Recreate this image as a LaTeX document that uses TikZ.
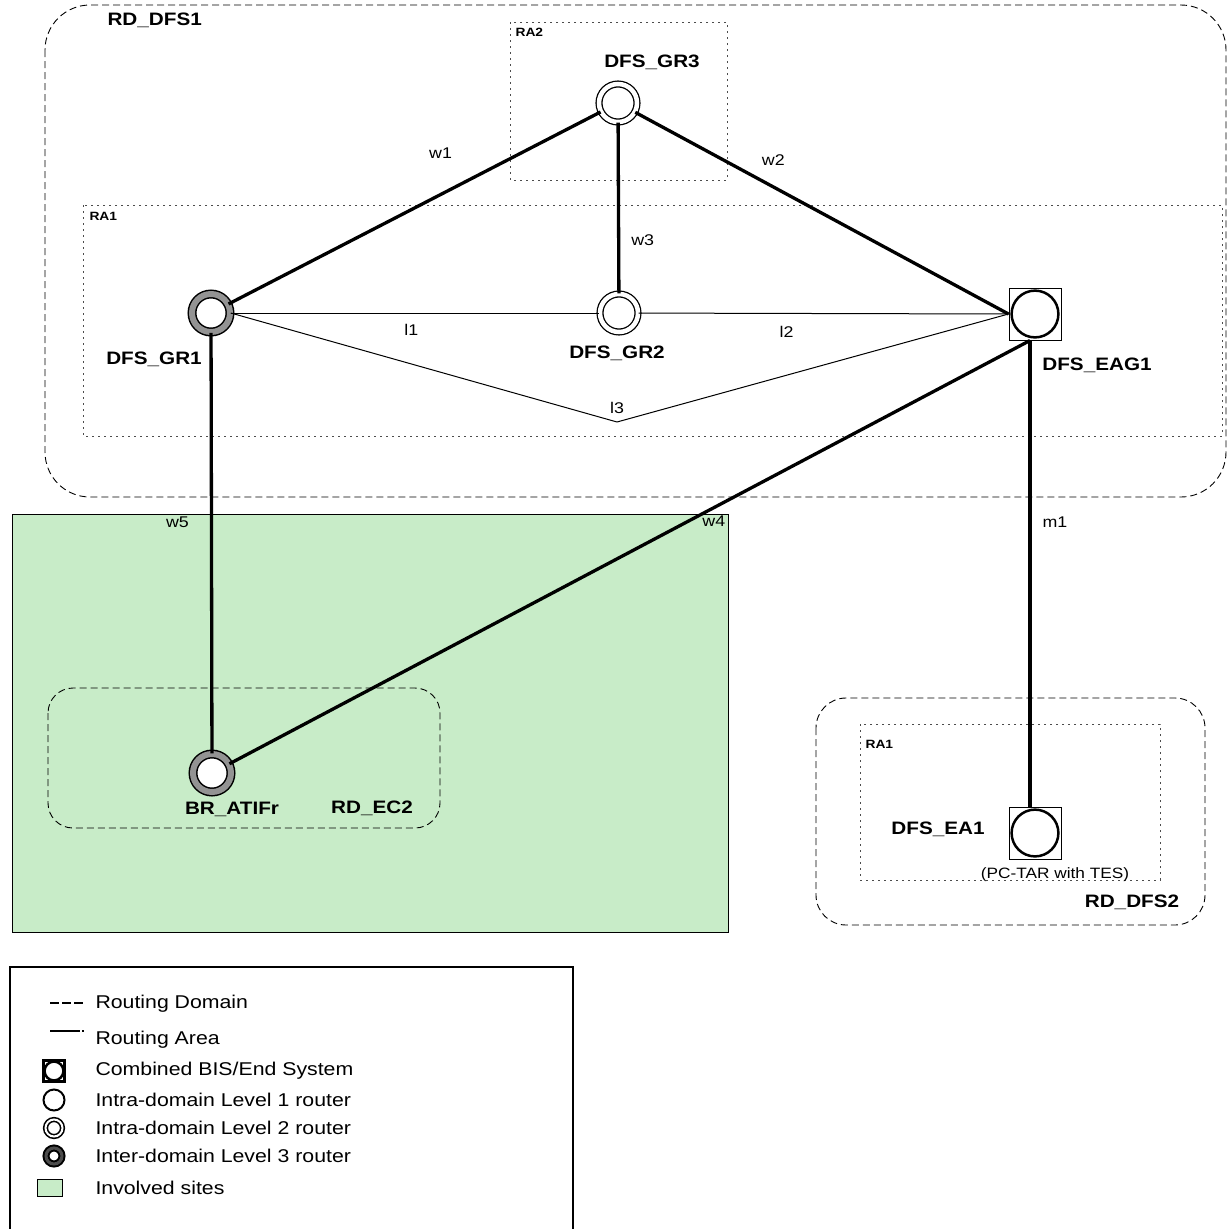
\documentclass[tikz,border=0pt]{standalone}
\usepackage{fontspec}
\setmainfont[FakeStretch=1.15]{Liberation Sans}
\usetikzlibrary{positioning}
\definecolor{sitegreen}{RGB}{200,236,200}
\tikzstyle{ltwo} = [circle, draw, double=white, fill=white, inner sep=0pt, line width=1.3pt, double distance=4.5pt, minimum size=38pt]
\tikzstyle{lthree} = [circle, draw, double=gray!85, fill=white, inner sep=0pt, line width=1.5pt, double distance=6pt, minimum size=38pt]
\tikzstyle{combo} = [rectangle, draw, line width=1pt, inner sep=0pt, minimum size=#1, path picture={\draw[line width=2.5pt] (path picture bounding box.center) circle ({0.45*#1});}]
\tikzstyle{wan} = [line width=3.3pt]
\tikzstyle{lan} = [line width=1pt]
\tikzstyle{rdomain} = [line width=0.9pt, dash pattern=on 7pt off 4pt]
\tikzstyle{rarea} = [line width=0.9pt, dash pattern=on 2pt off 4pt, black!70]
\tikzstyle{rname} = [font=\fontsize{18}{20}\selectfont\bfseries]
\tikzstyle{ratag} = [font=\fontsize{12}{14}\selectfont\bfseries, anchor=west]
\tikzstyle{lbl} = [font=\fontsize{15.5}{17}\selectfont]
\tikzstyle{keytext} = [font=\fontsize{18.5}{20}\selectfont, anchor=west]

\begin{document}
\begin{tikzpicture}[x=1pt, y=-1pt]

    \useasboundingbox (0,0) rectangle (1227,1229);

    % sites, domains and areas
    \draw[line width=1pt, fill=sitegreen] (12,514) rectangle (728,932);
    \draw[rdomain, rounded corners=45pt] (45,5) rectangle (1226,497);
    \draw[rdomain, rounded corners=25pt] (48,688) rectangle (440,828);
    \draw[rdomain, rounded corners=30pt] (816,698) rectangle (1205,925);
    \draw[rarea] (510,22) rectangle (727,180);
    \draw[rarea] (83,205) rectangle (1222,436);
    \draw[rarea] (860,724) rectangle (1160,880);

    \node[rname, anchor=west] (rddfs1) at (104,20) {RD\_DFS1};
    \node[ratag] (ra2) at (512,32) {RA2};
    \node[ratag] (ra1) at (86,216) {RA1};
    \node[rname] (rdec2) at (372,808) {RD\_EC2};
    \node[rname] (rddfs2) at (1132,902) {RD\_DFS2};
    \node[ratag] (ra1b) at (862,744) {RA1};

    % routers
    \node[ltwo] (gr3) at (618,103) {};
    \node[lthree] (gr1) at (211,313) {};
    \node[ltwo] (gr2) at (619,313) {};
    \node[combo=52pt] (eag1) at (1035,314) {};
    \node[lthree] (atifr) at (212,773) {};
    \node[combo=52pt] (ea1) at (1035,833) {};
    \coordinate (l3pt) at (617,422);

    \node[rname] at (652,62) {DFS\_GR3};
    \node[rname] at (154,359) {DFS\_GR1};
    \node[rname] at (617,353) {DFS\_GR2};
    \node[rname] at (1097,365) {DFS\_EAG1};
    \node[rname] at (232,809) {BR\_ATIFr};
    \node[rname] at (938,829) {DFS\_EA1};
    \node[font=\fontsize{15}{17}\selectfont] at (1055,875) {(PC-TAR with TES)};

    \path
        (gr1) edge[wan] node[lbl, pos=.57, yshift=41pt] {w1} (gr3)
        (gr3) edge[wan] node[lbl, pos=.37, yshift=27pt] {w2} (eag1.west)
        (gr3) edge[wan] node[lbl, pos=.69, xshift=24pt] {w3} (gr2)
        (gr1.east) edge[lan] node[lbl, pos=.49, yshift=-17pt] {l1} (gr2)
        (gr2) edge[lan] node[lbl, pos=.4, yshift=-18pt] {l2} (eag1.west)
        (gr1.east) edge[lan] (l3pt)
        (l3pt) edge[lan] (eag1.west)
        (gr1) edge[wan] node[lbl, pos=.45, xshift=-34pt] {w5} (atifr)
        ([xshift=-5pt]eag1.south) edge[wan] node[lbl, pos=.42, xshift=20pt, yshift=-3pt] {w4} (atifr)
        ([xshift=-5pt]eag1.south) edge[wan] node[lbl, pos=.39, xshift=25pt] {m1} ([xshift=-5pt]ea1.north)
    ;
    \node[lbl, above=5pt of l3pt] {l3};

    % legend
    \draw[line width=1.5pt] (10,1240) |- (573,967) -- (573,1240);
    \draw[line width=1.6pt, dash pattern=on 9pt off 3pt] (50,1003) -- (84,1003);
    \draw[line width=1.6pt, dash pattern=on 30pt off 2pt on 2pt off 10pt] (50,1031) -- (85,1031);
    \node[combo=21pt, line width=2.5pt] (keycombo) at (54,1071) {};
    \node[circle, draw, line width=2pt, minimum size=21pt, inner sep=0pt] (keyone) at (54,1100) {};
    \node[ltwo, minimum size=17pt, line width=1.6pt, double distance=2pt] (keytwo) at (54,1128) {};
    \node[lthree, minimum size=16pt, line width=2pt, double distance=3pt, double=gray!60!black] (keythree) at (54,1156) {};
    \node[rectangle, draw, line width=1.5pt, fill=sitegreen, minimum width=25pt, minimum height=17pt] (keysite) at (50,1188) {};

    \node[keytext] at (92,1004) {Routing Domain};
    \node[keytext] at (92,1040) {Routing Area};
    \node[keytext] at (92,1071) {Combined BIS/End System};
    \node[keytext] at (92,1100) {Intra-domain Level 1 router};
    \node[keytext] at (92,1128) {Intra-domain Level 2 router};
    \node[keytext] at (92,1156) {Inter-domain Level 3 router};
    \node[keytext] at (92,1188) {Involved sites};

\end{tikzpicture}
\end{document}
